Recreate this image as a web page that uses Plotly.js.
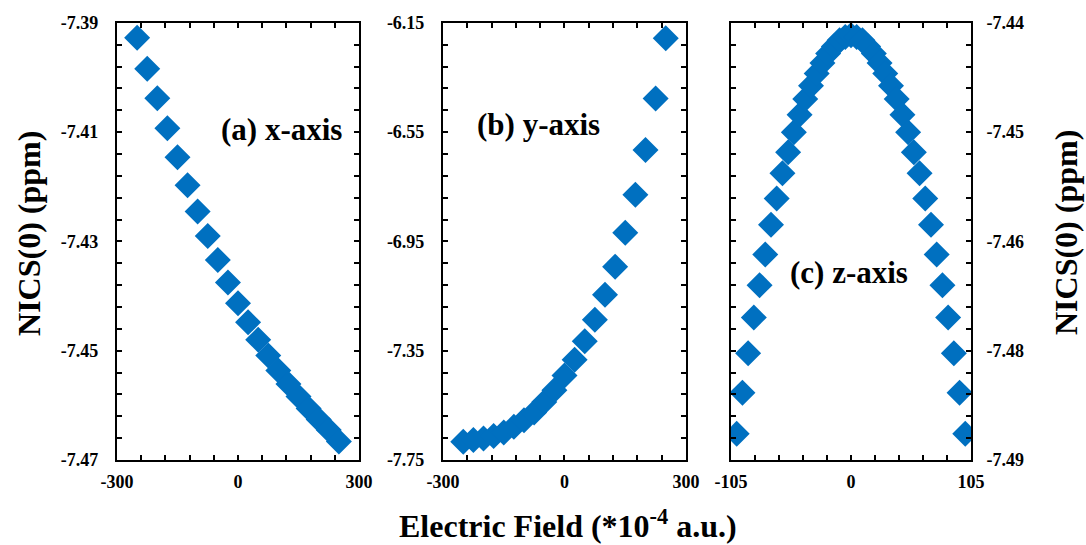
<!DOCTYPE html>
<html>
<head>
<meta charset="utf-8">
<script src="https://cdn.plot.ly/plotly-3.0.1.min.js"></script>
<style>html,body{margin:0;padding:0;background:#fff;}#chart{width:1086px;height:545px;}</style>
</head>
<body>
<div id="chart"></div>
<script>
// Panel (a): field along x-axis
const fieldA = [-250,-225,-200,-175,-150,-125,-100,-75,-50,-25,0,25,50,75,100,125,150,175,200,225,250];
const nicsA = [-7.3927,-7.3984,-7.4038,-7.4093,-7.4146,-7.4197,-7.4245,-7.4290,-7.4334,-7.4375,-7.4413,-7.4448,-7.4480,-7.4509,-7.4536,-7.4561,-7.4584,-7.4606,-7.4626,-7.4645,-7.4666];

// Panel (b): field along y-axis
const fieldB = [-250,-225,-200,-175,-150,-125,-100,-75,-50,-25,0,25,50,75,100,125,150,175,200,225,250];
const nicsB = [-7.6832,-7.6772,-7.6711,-7.6626,-7.6492,-7.6286,-7.6043,-7.5764,-7.5375,-7.4950,-7.4404,-7.3834,-7.3154,-7.2365,-7.1454,-7.0423,-6.9184,-6.7788,-6.6150,-6.4268,-6.2058];

// Panel (c): field along z-axis
const fieldC = [-100,-95,-90,-85,-80,-75,-70,-65,-60,-55,-50,-45,-40,-35,-30,-25,-20,-15,-10,-5,0,5,10,15,20,25,30,35,40,45,50,55,60,65,70,75,80,85,90,95,100];
const nicsC = [-7.4870,-7.4823,-7.4778,-7.4737,-7.4700,-7.4665,-7.4631,-7.4601,-7.4572,-7.4548,-7.4525,-7.4505,-7.4487,-7.4472,-7.4458,-7.4446,-7.4435,-7.4427,-7.4420,-7.4416,-7.4414,-7.4416,-7.4420,-7.4427,-7.4435,-7.4446,-7.4458,-7.4472,-7.4487,-7.4505,-7.4525,-7.4548,-7.4572,-7.4601,-7.4631,-7.4665,-7.4700,-7.4737,-7.4778,-7.4823,-7.4870];

// Tick labels
const xTickValsAB = [-300,0,300];
const xTickTextAB = ["-300","0","300"];
const xTickValsC = [-105,0,105];
const xTickTextC = ["-105","0","105"];
const yTickValsA = [-7.47,-7.45,-7.43,-7.41,-7.39];
const yTickTextA = ["-7.47","-7.45","-7.43","-7.41","-7.39"];
const yTickValsB = [-7.75,-7.35,-6.95,-6.55,-6.15];
const yTickTextB = ["-7.75","-7.35","-6.95","-6.55","-6.15"];
const yTickValsC = [-7.49,-7.4775,-7.465,-7.4525,-7.44];
const yTickTextC = ["-7.49","-7.48","-7.46","-7.45","-7.44"];

const panelLabels = ["(a) x-axis","(b) y-axis","(c) z-axis"];
const yTitle = "NICS(0) (ppm)";
const xTitle = "Electric Field (*10<sup>-4</sup> a.u.)";

const BLUE = "#0070C0";
const FONT = "Liberation Serif";

function mk(x, y, xa, ya) {
  return {x: x, y: y, xaxis: xa, yaxis: ya, type: "scatter", mode: "markers",
    marker: {symbol: "diamond", size: 20, color: BLUE, line: {width: 0}},
    hoverinfo: "x+y", showlegend: false};
}

function bold(arr) { return arr.map(function (s) { return "<b>" + s + "</b>"; }); }

function axis(extra) {
  return Object.assign({
    showline: true, linewidth: 2, linecolor: "#000", mirror: "allticks",
    ticks: "inside", ticklen: 5, tickwidth: 2, tickcolor: "#000",
    showgrid: false, zeroline: false, tickmode: "array",
    tickfont: {family: FONT, size: 18, color: "#000"},
    fixedrange: true
  }, extra);
}
function minor(t0, dt) {
  return {tickmode: "linear", tick0: t0, dtick: dt, ticks: "inside", ticklen: 5, tickwidth: 2, tickcolor: "#000", showgrid: false};
}

const yDom = [0.156, 0.958];
const titleFont = {family: FONT, size: 32, color: "#000"};
const labelFont = {family: FONT, size: 31, color: "#000"};
const layout = {
  width: 1086, height: 545,
  margin: {l: 0, r: 0, t: 0, b: 0},
  font: {family: FONT, size: 18, color: "#000"},
  paper_bgcolor: "#fff", plot_bgcolor: "#fff",
  showlegend: false,
  xaxis: axis({domain: [0.1077, 0.3306], range: [-300, 300], anchor: "y", tickvals: xTickValsAB, ticktext: bold(xTickTextAB), minor: minor(-300, 60), ticklabelstandoff: 4}),
  yaxis: axis({domain: yDom, range: [-7.47, -7.39], anchor: "x", tickvals: yTickValsA, ticktext: bold(yTickTextA), minor: minor(-7.47, 0.004), ticklabelstandoff: 13}),
  xaxis2: axis({domain: [0.4079, 0.6317], range: [-300, 300], anchor: "y2", tickvals: xTickValsAB, ticktext: bold(xTickTextAB), minor: minor(-300, 60), ticklabelstandoff: 4}),
  yaxis2: axis({domain: yDom, range: [-7.75, -6.15], anchor: "x2", tickvals: yTickValsB, ticktext: bold(yTickTextB), minor: minor(-7.75, 0.08), ticklabelstandoff: 13}),
  xaxis3: axis({domain: [0.6731, 0.8941], range: [-105, 105], anchor: "y3", tickvals: xTickValsC, ticktext: bold(xTickTextC), minor: minor(-105, 21), ticklabelstandoff: 4}),
  yaxis3: axis({domain: yDom, range: [-7.49, -7.44], anchor: "x3", side: "right", tickvals: yTickValsC, ticktext: bold(yTickTextC), minor: minor(-7.49, 0.0025), ticklabelstandoff: 10}),
  annotations: [
    {text: "<b>" + panelLabels[0] + "</b>", xref: "x domain", yref: "y domain", x: 0.68, y: 0.755, xanchor: "center", yanchor: "middle", showarrow: false, font: labelFont},
    {text: "<b>" + panelLabels[1] + "</b>", xref: "x2 domain", yref: "y2 domain", x: 0.391, y: 0.767, xanchor: "center", yanchor: "middle", showarrow: false, font: labelFont},
    {text: "<b>" + panelLabels[2] + "</b>", xref: "x3 domain", yref: "y3 domain", x: 0.492, y: 0.43, xanchor: "center", yanchor: "middle", showarrow: false, font: labelFont},
    {text: "<b>" + yTitle + "</b>", xref: "paper", yref: "paper", x: 0.0267, y: 0.5725, xanchor: "center", yanchor: "middle", textangle: -90, showarrow: false, font: titleFont},
    {text: "<b>" + yTitle + "</b>", xref: "paper", yref: "paper", x: 0.9816, y: 0.5725, xanchor: "center", yanchor: "middle", textangle: -90, showarrow: false, font: titleFont},
    {text: "<b>" + xTitle + "</b>", xref: "paper", yref: "paper", x: 0.523, y: 0.038, xanchor: "center", yanchor: "middle", showarrow: false, font: titleFont}
  ]
};

Plotly.newPlot("chart", [mk(fieldA, nicsA, "x", "y"), mk(fieldB, nicsB, "x2", "y2"), mk(fieldC, nicsC, "x3", "y3")], layout, {displayModeBar: false, staticPlot: true});
</script>
</body>
</html>
